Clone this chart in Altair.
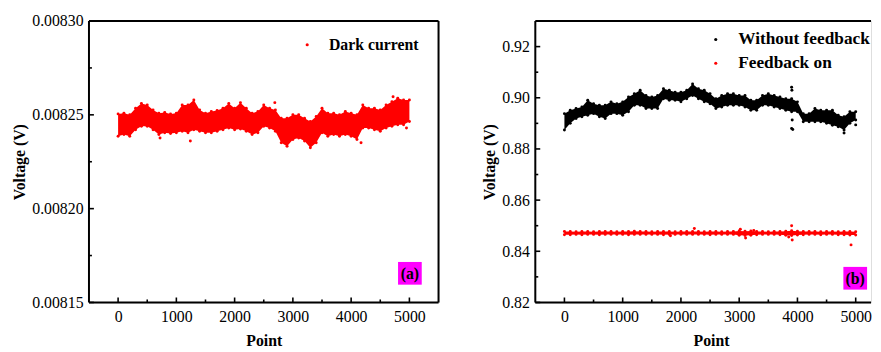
import altair as alt
import pandas as pd

# ---------------- data ----------------
pts = list(range(0, 5001, 100))

# (a) dark current: upper / lower edge of the scatter band every 100 points
dark_hi = [0.0082505, 0.0082509, 0.0082500, 0.0082535, 0.0082561, 0.0082553, 0.0082526, 0.0082509, 0.0082512, 0.0082505,
           0.0082509, 0.0082553, 0.0082553, 0.0082579, 0.0082526, 0.0082509, 0.0082518, 0.0082523, 0.0082535, 0.0082561,
           0.0082535, 0.0082565, 0.0082535, 0.0082509, 0.0082518, 0.0082553, 0.0082535, 0.0082526, 0.0082482, 0.0082482,
           0.0082500, 0.0082500, 0.0082482, 0.0082465, 0.0082491, 0.0082535, 0.0082509, 0.0082509, 0.0082500, 0.0082518,
           0.0082509, 0.0082500, 0.0082553, 0.0082535, 0.0082535, 0.0082526, 0.0082553, 0.0082570, 0.0082588, 0.0082579,
           0.0082579]
dark_lo = [0.0082386, 0.0082395, 0.0082386, 0.0082421, 0.0082439, 0.0082439, 0.0082421, 0.0082395, 0.0082404, 0.0082400,
           0.0082404, 0.0082412, 0.0082404, 0.0082421, 0.0082412, 0.0082404, 0.0082404, 0.0082412, 0.0082421, 0.0082430,
           0.0082421, 0.0082425, 0.0082412, 0.0082395, 0.0082404, 0.0082439, 0.0082430, 0.0082412, 0.0082351, 0.0082333,
           0.0082368, 0.0082377, 0.0082360, 0.0082325, 0.0082351, 0.0082404, 0.0082386, 0.0082395, 0.0082386, 0.0082395,
           0.0082386, 0.0082368, 0.0082430, 0.0082430, 0.0082421, 0.0082412, 0.0082430, 0.0082439, 0.0082447, 0.0082447,
           0.0082465]
dark_out_x = [720, 1240, 2690, 4170, 4950, 4720]
dark_out_y = [0.0082377, 0.0082360, 0.0082565, 0.0082351, 0.0082430, 0.0082596]

# (b) without feedback
wo_hi = [0.8938, 0.8951, 0.8958, 0.8964, 0.8990, 0.8977, 0.8971, 0.8971, 0.8984, 0.8977,
         0.8984, 0.9003, 0.9016, 0.9029, 0.9009, 0.9003, 0.9009, 0.9035, 0.9029, 0.9022,
         0.9022, 0.9029, 0.9054, 0.9035, 0.9029, 0.9016, 0.8996, 0.9009, 0.9016, 0.9016,
         0.9009, 0.9009, 0.8990, 0.8990, 0.9009, 0.9016, 0.9009, 0.9003, 0.8996, 0.8996,
         0.8984, 0.8938, 0.8938, 0.8958, 0.8951, 0.8951, 0.8951, 0.8932, 0.8926, 0.8945,
         0.8945]
wo_lo = [0.8874, 0.8900, 0.8919, 0.8926, 0.8932, 0.8938, 0.8926, 0.8919, 0.8938, 0.8938,
         0.8932, 0.8945, 0.8971, 0.8971, 0.8958, 0.8958, 0.8958, 0.8996, 0.8990, 0.8990,
         0.8984, 0.8996, 0.9009, 0.8996, 0.8984, 0.8977, 0.8958, 0.8964, 0.8971, 0.8971,
         0.8971, 0.8964, 0.8951, 0.8951, 0.8971, 0.8971, 0.8964, 0.8958, 0.8951, 0.8945,
         0.8945, 0.8906, 0.8906, 0.8906, 0.8906, 0.8900, 0.8893, 0.8887, 0.8874, 0.8900,
         0.8913]
wo_out_x = [3900, 3905, 3910, 3900, 3920, 4800, 5000]
wo_out_y = [0.9041, 0.9029, 0.8913, 0.8880, 0.8876, 0.8862, 0.8894]

# (b) feedback on
fb_hi = [0.8477, 0.8477, 0.8476, 0.8477, 0.8477, 0.8476, 0.8477, 0.8477, 0.8477, 0.8476,
         0.8477, 0.8477, 0.8478, 0.8477, 0.8477, 0.8476, 0.8477, 0.8477, 0.8477, 0.8476,
         0.8477, 0.8477, 0.8477, 0.8477, 0.8476, 0.8477, 0.8477, 0.8476, 0.8477, 0.8477,
         0.8479, 0.8478, 0.8479, 0.8477, 0.8477, 0.8476, 0.8477, 0.8477, 0.8478, 0.8480,
         0.8478, 0.8477, 0.8477, 0.8477, 0.8476, 0.8477, 0.8477, 0.8476, 0.8477, 0.8477,
         0.8476]
fb_lo = [0.8465, 0.8465, 0.8466, 0.8465, 0.8466, 0.8466, 0.8465, 0.8466, 0.8466, 0.8466,
         0.8466, 0.8465, 0.8466, 0.8466, 0.8466, 0.8466, 0.8466, 0.8465, 0.8466, 0.8466,
         0.8466, 0.8466, 0.8466, 0.8466, 0.8466, 0.8465, 0.8466, 0.8466, 0.8466, 0.8466,
         0.8463, 0.8462, 0.8463, 0.8465, 0.8466, 0.8466, 0.8466, 0.8465, 0.8463, 0.8462,
         0.8464, 0.8465, 0.8466, 0.8466, 0.8465, 0.8466, 0.8466, 0.8465, 0.8465, 0.8464,
         0.8464]
fb_out_x = [1820, 2230, 3020, 3110, 3250, 3850, 3900, 3910, 4920]
fb_out_y = [0.8461, 0.8489, 0.8486, 0.8452, 0.8481, 0.8456, 0.8500, 0.8444, 0.8425]

xa_major = [0, 1000, 2000, 3000, 4000, 5000]
xa_minor = [500, 1500, 2500, 3500, 4500]
ya_major = [0.00815, 0.00820, 0.00825, 0.00830]
ya_minor = [0.008175, 0.008225, 0.008275]
yb_major = [0.82, 0.84, 0.86, 0.88, 0.90, 0.92]
yb_minor = [0.83, 0.85, 0.87, 0.89, 0.91]

# ---------------- styling ----------------
FONT = "Liberation Serif, Times New Roman, serif"
BG = "#DFF7C3"
H = 285
WA = 354
WB = 340
one = pd.DataFrame({"k": [0]})


def band(xs, hi, lo, color):
    df = pd.DataFrame({"point": xs, "hi": hi, "lo": lo})
    return alt.Chart(df).mark_area(color=color, opacity=1, interpolate="linear").encode(
        x="point:Q", y="hi:Q", y2="lo:Q")


def frame(w, right=True):
    layers = [
        alt.Chart(one).mark_rule(color="black", strokeWidth=2).encode(
            x=alt.value(0), y=alt.value(0), y2=alt.value(H)),
        alt.Chart(one).mark_rule(color="black", strokeWidth=2).encode(
            y=alt.value(H), x=alt.value(0), x2=alt.value(w)),
        alt.Chart(one).mark_rule(color="black", strokeWidth=2).encode(
            y=alt.value(0), x=alt.value(0), x2=alt.value(w)),
    ]
    if right:
        layers.append(alt.Chart(one).mark_rule(color="black", strokeWidth=2).encode(
            x=alt.value(w), y=alt.value(0), y2=alt.value(H)))
    return layers


def xticks(vals, length):
    df = pd.DataFrame({"t": vals})
    return alt.Chart(df).mark_rule(color="black", strokeWidth=1.6).encode(
        x="t:Q", y=alt.value(H - length), y2=alt.value(H))


def yticks(vals, length):
    df = pd.DataFrame({"t": vals})
    return alt.Chart(df).mark_rule(color="black", strokeWidth=1.6).encode(
        y="t:Q", x=alt.value(0), x2=alt.value(length))


def tag(label, x0, y0):
    box = alt.Chart(one).mark_rect(color="#FF00FF").encode(
        x=alt.value(x0), x2=alt.value(x0 + 24), y=alt.value(y0), y2=alt.value(y0 + 23))
    txt = alt.Chart(one).mark_text(font=FONT, fontSize=16, fontWeight="bold", color="black",
                                   align="center", baseline="middle").encode(
        x=alt.value(x0 + 12), y=alt.value(y0 + 12), text=alt.value(label))
    return [box, txt]


def xaxis(title_x):
    return alt.Axis(values=xa_major, format="d", title="Point", ticks=False, domain=False, grid=False,
                    labelFont=FONT, labelFontSize=16, labelColor="black", labelPadding=6,
                    titleFont=FONT, titleFontSize=16, titleFontWeight="bold", titleColor="black",
                    titlePadding=9, titleX=title_x)


def yaxis(vals, fmt):
    return alt.Axis(values=vals, format=fmt, title="Voltage (V)", ticks=False, domain=False, grid=False,
                    labelFont=FONT, labelFontSize=16, labelColor="black", labelPadding=6,
                    titleFont=FONT, titleFontSize=16, titleFontWeight="bold", titleColor="black",
                    titlePadding=4)


# ---------------- panel (a) ----------------
pa = pd.DataFrame({
    "point": pts + pts + dark_out_x,
    "v": dark_hi + dark_lo + dark_out_y,
    "series": ["Dark current"] * (len(pts) * 2 + len(dark_out_x)),
})
xa_scale = alt.Scale(domain=[-500, 5500], nice=False, zero=False)
ya_scale = alt.Scale(domain=[0.00815, 0.00830], nice=False, zero=False)

band_a = band(pts, dark_hi, dark_lo, "#FF0000").encode(
    x=alt.X("point:Q", scale=xa_scale, axis=xaxis(WA / 2)),
    y=alt.Y("hi:Q", scale=ya_scale, axis=yaxis(ya_major, ".5f")))
pts_a = alt.Chart(pa).mark_circle(size=9, opacity=1).encode(
    x=alt.X("point:Q", scale=xa_scale),
    y=alt.Y("v:Q", scale=ya_scale),
    color=alt.Color("series:N", scale=alt.Scale(domain=["Dark current"], range=["#FF0000"]),
                    legend=alt.Legend(title=None, orient="none", legendX=213, legendY=16,
                                      symbolType="circle", symbolSize=10, symbolStrokeWidth=0,
                                      labelFont=FONT, labelFontSize=16, labelFontWeight="bold",
                                      labelColor="black", labelOffset=14)))
panel_a = alt.layer(
    band_a, pts_a,
    xticks(xa_major, 5), xticks(xa_minor, 3), yticks(ya_major, 5), yticks(ya_minor, 3),
    *frame(WA, right=True), *tag("(a)", 313, 244)
).properties(width=WA, height=H)

# ---------------- panel (b) ----------------
series_b = ["Without feedback", "Feedback on"]
pb = pd.DataFrame({
    "point": pts + pts + wo_out_x + pts + pts + fb_out_x,
    "v": wo_hi + wo_lo + wo_out_y + fb_hi + fb_lo + fb_out_y,
    "series": ["Without feedback"] * (len(pts) * 2 + len(wo_out_x))
              + ["Feedback on"] * (len(pts) * 2 + len(fb_out_x)),
})
xb_scale = alt.Scale(domain=[-500, 5263], nice=False, zero=False)
yb_scale = alt.Scale(domain=[0.82, 0.93], nice=False, zero=False)

band_b1 = band(pts, wo_hi, wo_lo, "#000000").encode(
    x=alt.X("point:Q", scale=xb_scale, axis=xaxis(178)),
    y=alt.Y("hi:Q", scale=yb_scale, axis=yaxis(yb_major, ".2f")))
band_b2 = band(pts, fb_hi, fb_lo, "#FF0000").encode(
    x=alt.X("point:Q", scale=xb_scale), y=alt.Y("hi:Q", scale=yb_scale))
pts_b = alt.Chart(pb).mark_circle(size=9, opacity=1).encode(
    x=alt.X("point:Q", scale=xb_scale),
    y=alt.Y("v:Q", scale=yb_scale),
    color=alt.Color("series:N", scale=alt.Scale(domain=series_b, range=["#000000", "#FF0000"]),
                    sort=series_b,
                    legend=alt.Legend(title=None, orient="none", legendX=174, legendY=10,
                                      symbolType="circle", symbolSize=10, symbolStrokeWidth=0,
                                      labelFont=FONT, labelFontSize=17.5, labelFontWeight="bold",
                                      labelColor="black", labelOffset=14, rowPadding=5)))
panel_b = alt.layer(
    band_b1, band_b2, pts_b,
    xticks(xa_major, 5), xticks(xa_minor, 3), yticks(yb_major, 5), yticks(yb_minor, 3),
    *frame(WB, right=False), *tag("(b)", 312, 249)
).properties(width=WB, height=H)

chart = alt.hconcat(panel_a, panel_b, spacing=41).resolve_scale(
    color="independent", x="independent", y="independent"
).resolve_legend(color="independent").properties(
    padding={"left": 3, "top": 2, "right": 0, "bottom": 0}
).configure_view(fill=BG, stroke=None).configure(background="white")

chart.save("out.html", embed_options={"renderer": "svg", "actions": False})
